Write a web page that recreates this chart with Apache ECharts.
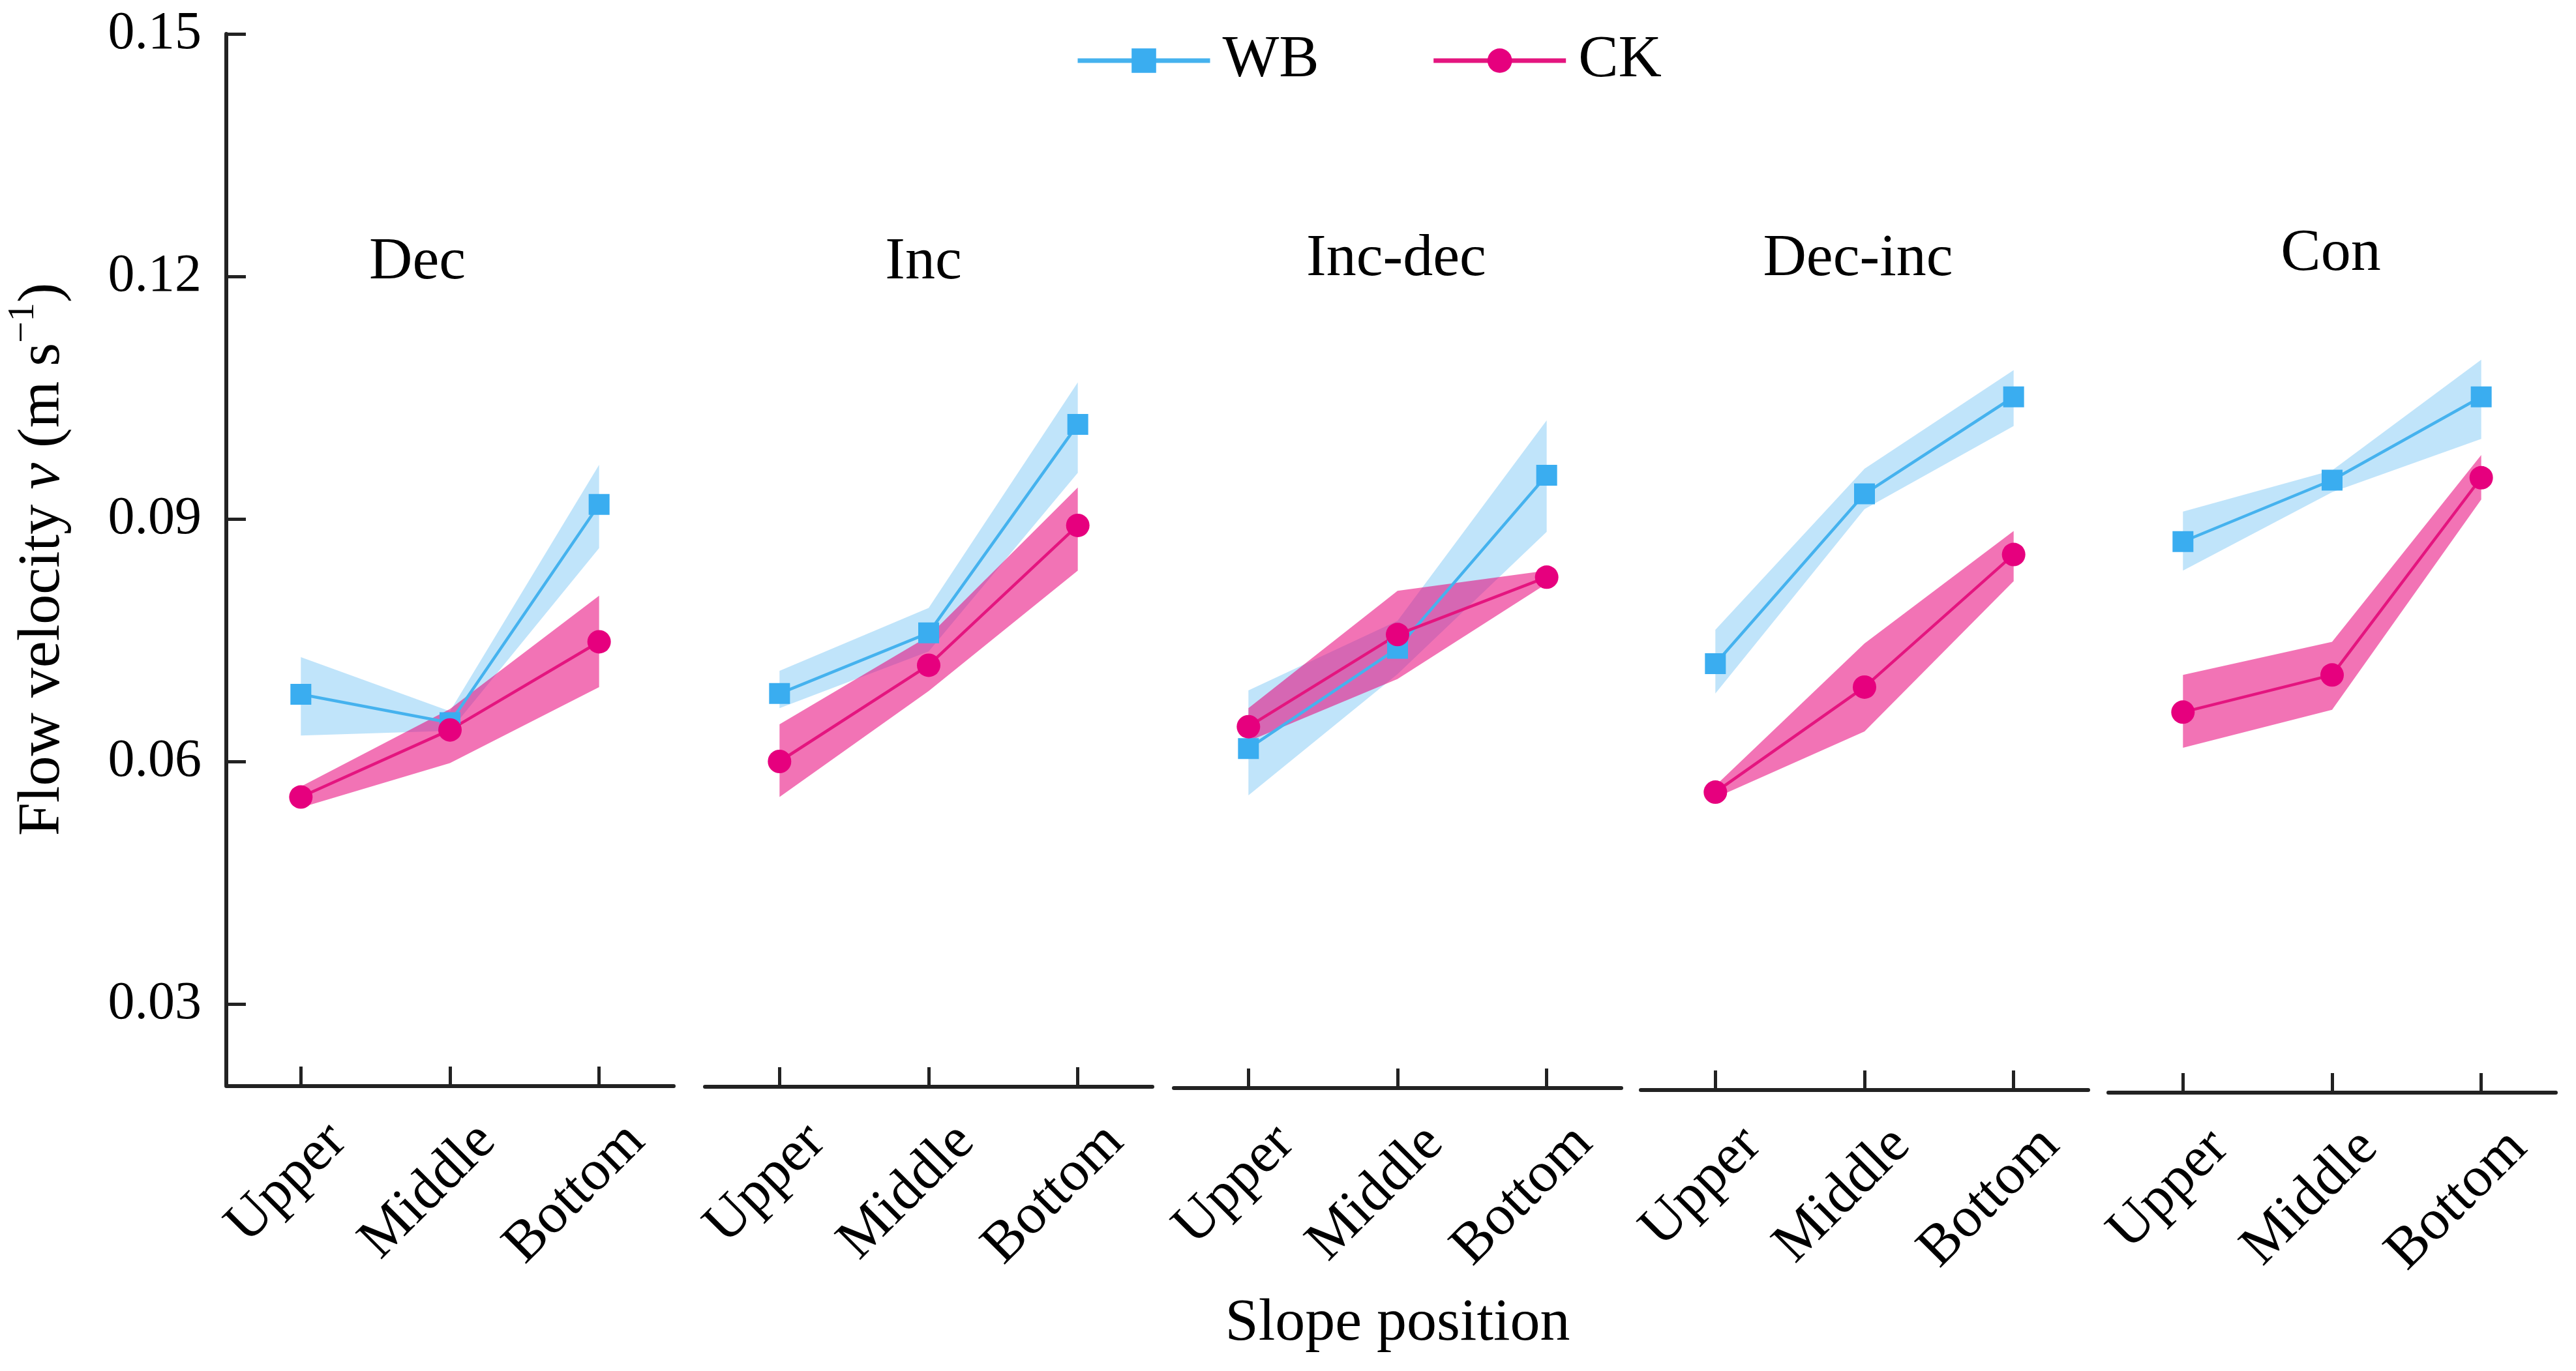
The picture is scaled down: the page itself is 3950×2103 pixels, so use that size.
<!DOCTYPE html>
<html><head><meta charset="utf-8">
<script src="https://cdn.jsdelivr.net/npm/echarts@6/dist/echarts.min.js"></script>
<style>html,body{margin:0;padding:0;background:#fff}#c{width:3950px;height:2103px}</style>
</head><body><div id="c"></div>
<script>
// ---- data ----
const categories = ['Upper', 'Middle', 'Bottom'];
const panels = ['Dec', 'Inc', 'Inc-dec', 'Dec-inc', 'Con'];
const yTicks = [0.03, 0.06, 0.09, 0.12, 0.15];

const wbMean = [
  [0.0683, 0.0648, 0.0918],
  [0.0684, 0.0759, 0.1017],
  [0.0616, 0.0740, 0.0954],
  [0.0721, 0.0931, 0.1051],
  [0.0872, 0.0948, 0.1051]
];
const wbLow = [
  [0.0632, 0.0638, 0.0864],
  [0.0666, 0.0736, 0.0957],
  [0.0558, 0.0708, 0.0884],
  [0.0684, 0.0912, 0.1015],
  [0.0836, 0.0933, 0.0999]
];
const wbHigh = [
  [0.0729, 0.0662, 0.0967],
  [0.0712, 0.0790, 0.1069],
  [0.0688, 0.0774, 0.1022],
  [0.0763, 0.0962, 0.1084],
  [0.0909, 0.0960, 0.1097]
];
const ckMean = [
  [0.0556, 0.0639, 0.0748],
  [0.0600, 0.0719, 0.0892],
  [0.0643, 0.0757, 0.0828],
  [0.0562, 0.0692, 0.0856],
  [0.0661, 0.0707, 0.0951]
];
const ckLow = [
  [0.0543, 0.0598, 0.0692],
  [0.0556, 0.0687, 0.0836],
  [0.0625, 0.0702, 0.0820],
  [0.0555, 0.0637, 0.0823],
  [0.0617, 0.0664, 0.0924]
];
const ckHigh = [
  [0.0569, 0.0665, 0.0805],
  [0.0646, 0.0755, 0.0939],
  [0.0666, 0.0811, 0.0836],
  [0.0570, 0.0746, 0.0885],
  [0.0707, 0.0748, 0.0979]
];

// ---- layout / style ----
const FONT = '"Liberation Serif", "Times New Roman", serif';
const gridLeft = [347, 1081, 1800, 2516, 3233];
const gridWidth = 686;
const xOffset = [2, 3, 5, 8, 12];
const titlePos = [[640, 403], [1416, 403], [2141, 398], [2849, 398], [3574, 390]];
const AX = '#222';
const WB_LINE = '#45B2EE', WB_MARK = '#3AADF0', WB_BAND = 'rgba(60,170,240,0.32)';
const CK_LINE = '#E4157F', CK_MARK = '#E6007E', CK_BAND = 'rgba(232,0,120,0.55)';

const grid = [], xAxis = [], yAxis = [], series = [], graphic = [];

panels.forEach((p, i) => {
  grid.push({ left: gridLeft[i], width: gridWidth, top: 52, bottom: 2103 - 1664 });
  const xa = {
    type: 'category', gridIndex: i, data: categories, boundaryGap: true,
    offset: xOffset[i],
    axisLine: { show: true, onZero: false, lineStyle: { color: AX, width: 6 } },
    axisTick: { show: true, inside: true, length: 30, alignWithLabel: true, lineStyle: { color: AX, width: 5 } },
    axisLabel: { rotate: 45, margin: 128, padding: [0, -80, 0, 0], fontSize: 88, fontFamily: FONT, color: '#000' },
    splitLine: { show: false }
  };
  if (i === 2) {
    xa.name = 'Slope position';
    xa.nameLocation = 'middle';
    xa.nameGap = 316;
    xa.nameTextStyle = { fontSize: 92, fontFamily: FONT, color: '#000' };
  }
  xAxis.push(xa);
  if (i === 0) {
    yAxis.push({
      type: 'value', gridIndex: 0, min: 0.02, max: 0.15,
      axisLine: { show: true, lineStyle: { color: AX, width: 6 } },
      axisTick: { show: true, inside: true, length: 30, customValues: yTicks, lineStyle: { color: AX, width: 5 } },
      axisLabel: { customValues: yTicks, formatter: v => v.toFixed(2), margin: 38, fontSize: 82, fontFamily: FONT, color: '#000' },
      splitLine: { show: false },
      name: 'Flow velocity {i|v} (m s{sup|\u22121})',
      nameLocation: 'middle', nameGap: 222,
      nameTextStyle: {
        fontSize: 92, fontFamily: FONT, color: '#000',
        rich: {
          i: { fontSize: 92, fontFamily: FONT, fontStyle: 'italic', color: '#000' },
          sup: { fontSize: 58, fontFamily: FONT, color: '#000', padding: [0, 0, 60, 0] }
        }
      }
    });
  } else {
    yAxis.push({ type: 'value', gridIndex: i, min: 0.02, max: 0.15, show: false, splitLine: { show: false } });
  }

  const band = (name, low, high, stack, color) => {
    series.push({
      name: name + ' low', type: 'line', xAxisIndex: i, yAxisIndex: i, stack: stack,
      data: low, symbol: 'none', silent: true, lineStyle: { opacity: 0 }
    });
    series.push({
      name: name + ' band', type: 'line', xAxisIndex: i, yAxisIndex: i, stack: stack,
      data: high.map((h, k) => +(h - low[k]).toFixed(5)), symbol: 'none', silent: true,
      lineStyle: { opacity: 0 }, areaStyle: { color: color, opacity: 1 }
    });
  };

  band('WB', wbLow[i], wbHigh[i], 'wb' + i, WB_BAND);
  series.push({
    name: 'WB', type: 'line', xAxisIndex: i, yAxisIndex: i, data: wbMean[i],
    symbol: 'rect', symbolSize: 32, lineStyle: { color: WB_LINE, width: 4.5 },
    itemStyle: { color: WB_MARK }
  });
  band('CK', ckLow[i], ckHigh[i], 'ck' + i, CK_BAND);
  series.push({
    name: 'CK', type: 'line', xAxisIndex: i, yAxisIndex: i, data: ckMean[i],
    symbol: 'circle', symbolSize: 36, lineStyle: { color: CK_LINE, width: 4.5 },
    itemStyle: { color: CK_MARK }
  });

  graphic.push({
    type: 'text', x: titlePos[i][0], y: titlePos[i][1],
    style: { text: p, font: '92px ' + FONT, fill: '#000', textAlign: 'center', textVerticalAlign: 'middle' }
  });
});

const chart = echarts.init(document.getElementById('c'));
chart.setOption({
  animation: false,
  backgroundColor: '#fff',
  grid, xAxis, yAxis, series, graphic,
  legend: {
    data: ['WB', 'CK'], left: 1644, top: 42, itemWidth: 203, itemHeight: 47, itemGap: 172,
    lineStyle: { width: 7 },
    textStyle: { fontSize: 92, fontFamily: FONT, color: '#000', padding: [0, 0, 0, 14] }
  }
});
</script></body></html>
